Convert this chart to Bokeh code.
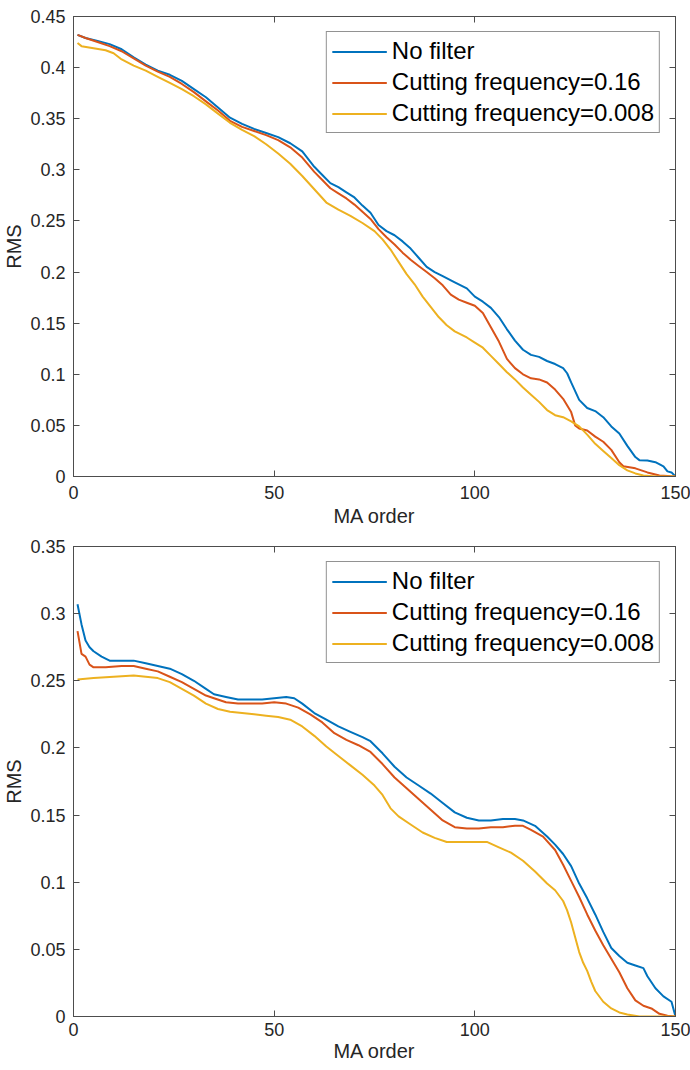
from bokeh.plotting import figure
from bokeh.layouts import column
from bokeh.models import (LinearAxis, FixedTicker, CustomJSTickFormatter, Range1d,
                          CustomLabelingPolicy)
from bokeh.embed import file_html
from bokeh.resources import INLINE

# ---------------- data ----------------
series_names = ["No filter", "Cutting frequency=0.16", "Cutting frequency=0.008"]
series_colors = ["#0072BD", "#D95319", "#EDB120"]

# upper panel
top_nf_x = [1, 3, 6, 9, 12, 15, 18, 21, 24, 27, 30, 33, 36, 39, 42, 45, 48, 51, 54, 57,
            60, 62, 64, 66, 68, 70, 72, 74, 76, 78, 80, 82, 84, 86, 88, 90, 92, 95, 98,
            100, 102, 104, 106, 108, 110, 112, 114, 116, 118, 120, 122, 123, 124, 126,
            128, 130, 132, 134, 136, 138, 140, 141, 143, 145, 147, 148, 149, 150]
top_nf_y = [0.432, 0.429, 0.426, 0.423, 0.418, 0.410, 0.403, 0.397, 0.393, 0.387, 0.379,
            0.371, 0.361, 0.351, 0.345, 0.340, 0.336, 0.332, 0.326, 0.318, 0.303, 0.295,
            0.287, 0.283, 0.278, 0.273, 0.265, 0.258, 0.246, 0.240, 0.236, 0.230, 0.223,
            0.214, 0.205, 0.200, 0.196, 0.190, 0.184, 0.176, 0.171, 0.165, 0.156, 0.144,
            0.133, 0.124, 0.119, 0.117, 0.113, 0.110, 0.106, 0.101, 0.092, 0.075, 0.067,
            0.064, 0.058, 0.049, 0.042, 0.030, 0.019, 0.016, 0.0156, 0.014, 0.010, 0.005,
            0.004, 0.0]

top_c16_x = [1, 3, 6, 9, 12, 15, 18, 21, 24, 27, 30, 33, 36, 39, 42, 45, 48, 51, 54, 57,
             60, 62, 64, 66, 68, 70, 72, 74, 76, 78, 80, 82, 84, 86, 88, 90, 92, 94, 96,
             98, 100, 102, 104, 106, 108, 110, 112, 114, 116, 118, 120, 122, 124, 125,
             126, 128, 130, 132, 134, 136, 137, 140, 143, 146, 150]
top_c16_y = [0.432, 0.429, 0.425, 0.421, 0.416, 0.409, 0.402, 0.396, 0.391, 0.384, 0.376,
             0.367, 0.358, 0.348, 0.342, 0.338, 0.334, 0.329, 0.322, 0.312, 0.298, 0.290,
             0.282, 0.277, 0.272, 0.266, 0.259, 0.252, 0.242, 0.234, 0.227, 0.219, 0.212,
             0.206, 0.200, 0.194, 0.187, 0.178, 0.173, 0.170, 0.167, 0.160, 0.146, 0.132,
             0.115, 0.106, 0.100, 0.096, 0.095, 0.092, 0.085, 0.076, 0.063, 0.050, 0.047,
             0.045, 0.039, 0.034, 0.026, 0.014, 0.010, 0.008, 0.004, 0.001, 0.0]

top_c008_x = [1, 2, 5, 8, 10, 12, 15, 18, 21, 24, 27, 30, 33, 36, 39, 42, 45, 48, 51, 54,
              57, 60, 63, 66, 69, 72, 75, 77, 79, 81, 83, 85, 87, 89, 91, 93, 95, 98, 100,
              102, 104, 106, 108, 110, 112, 114, 116, 118, 120, 122, 124, 126, 128, 130,
              132, 134, 136, 138, 140, 142, 145, 150]
top_c008_y = [0.424, 0.421, 0.419, 0.417, 0.414, 0.408, 0.402, 0.397, 0.391, 0.385, 0.379,
              0.372, 0.364, 0.355, 0.346, 0.339, 0.333, 0.325, 0.316, 0.306, 0.294, 0.281,
              0.268, 0.261, 0.255, 0.248, 0.240, 0.232, 0.222, 0.210, 0.198, 0.188, 0.176,
              0.166, 0.156, 0.148, 0.142, 0.136, 0.131, 0.126, 0.118, 0.110, 0.102, 0.095,
              0.087, 0.080, 0.073, 0.065, 0.060, 0.058, 0.054, 0.049, 0.041, 0.032, 0.025,
              0.018, 0.011, 0.006, 0.003, 0.001, 0.0, 0.0]

# lower panel
bot_nf_x = [1, 2, 3, 4, 5, 7, 9, 12, 15, 18, 21, 24, 27, 30, 33, 35, 38, 41, 44, 47, 50,
            53, 55, 57, 60, 63, 66, 69, 72, 74, 77, 80, 83, 86, 89, 92, 95, 98, 101, 104,
            107, 110, 112, 115, 118, 120, 122, 124, 126, 128, 130, 132, 134, 136, 138,
            140, 142, 143, 145, 147, 149, 150]
bot_nf_y = [0.307, 0.292, 0.280, 0.275, 0.272, 0.268, 0.265, 0.265, 0.265, 0.263, 0.261,
            0.259, 0.255, 0.250, 0.244, 0.240, 0.238, 0.236, 0.236, 0.236, 0.237, 0.238,
            0.237, 0.233, 0.226, 0.221, 0.216, 0.212, 0.208, 0.205, 0.196, 0.186, 0.178,
            0.172, 0.166, 0.159, 0.152, 0.148, 0.146, 0.146, 0.147, 0.147, 0.146, 0.142,
            0.134, 0.128, 0.121, 0.112, 0.099, 0.088, 0.076, 0.063, 0.051, 0.045, 0.040,
            0.038, 0.036, 0.030, 0.021, 0.015, 0.011, 0.0]

bot_c16_x = [1, 2, 3, 4, 5, 8, 12, 15, 18, 21, 24, 27, 30, 33, 35, 38, 41, 44, 47, 50, 53,
             56, 59, 62, 65, 68, 71, 74, 77, 80, 83, 86, 89, 92, 95, 98, 101, 104, 107,
             110, 112, 114, 117, 120, 122, 124, 126, 128, 130, 132, 134, 136, 138, 140,
             142, 144, 146, 148, 150]
bot_c16_y = [0.287, 0.270, 0.268, 0.262, 0.260, 0.260, 0.261, 0.261, 0.259, 0.257, 0.253,
             0.249, 0.244, 0.239, 0.237, 0.234, 0.233, 0.233, 0.233, 0.234, 0.233, 0.230,
             0.225, 0.219, 0.211, 0.206, 0.202, 0.197, 0.188, 0.178, 0.170, 0.162, 0.154,
             0.146, 0.141, 0.140, 0.140, 0.141, 0.141, 0.142, 0.142, 0.139, 0.134, 0.124,
             0.113, 0.101, 0.089, 0.076, 0.064, 0.053, 0.043, 0.033, 0.021, 0.012, 0.008,
             0.006, 0.002, 0.0005, 0.0]

bot_c008_x = [1, 5, 10, 15, 18, 21, 24, 27, 30, 33, 36, 39, 42, 45, 48, 51, 54, 57, 60,
              63, 66, 69, 72, 75, 77, 79, 81, 84, 87, 90, 93, 96, 100, 103, 106, 109, 112,
              115, 118, 120, 122, 123, 124, 125, 126, 127, 128, 129, 130, 132, 134, 136,
              138, 141, 150]
bot_c008_y = [0.251, 0.252, 0.253, 0.254, 0.253, 0.252, 0.249, 0.244, 0.239, 0.233, 0.229,
              0.227, 0.226, 0.225, 0.224, 0.223, 0.221, 0.216, 0.209, 0.201, 0.194, 0.187,
              0.180, 0.172, 0.165, 0.155, 0.149, 0.143, 0.137, 0.133, 0.130, 0.130, 0.130,
              0.130, 0.126, 0.122, 0.116, 0.108, 0.099, 0.094, 0.086, 0.079, 0.070, 0.059,
              0.048, 0.040, 0.034, 0.026, 0.019, 0.011, 0.006, 0.003, 0.0015, 0.0, 0.0]

x_ticks = [0, 50, 100, 150]
top_y_ticks = [0, 0.05, 0.1, 0.15, 0.2, 0.25, 0.3, 0.35, 0.4, 0.45]
bot_y_ticks = [0, 0.05, 0.1, 0.15, 0.2, 0.25, 0.3, 0.35]

# ---------------- styling ----------------
FONT = "Liberation Sans"
AX = "#4d4d4d"
TXT = "#262626"
fmt = CustomJSTickFormatter(code="return String(parseFloat(tick.toFixed(3)));")
no_labels = CustomLabelingPolicy(code="""
for (const i of indices) { indices.unset(i) }
return indices
""")


def style_axis(ax, show_labels):
    ax.axis_line_color = AX
    ax.major_tick_line_color = AX
    ax.major_tick_in = 6
    ax.major_tick_out = 0
    ax.minor_tick_line_color = None
    ax.major_label_text_font = FONT
    ax.major_label_text_color = TXT
    ax.major_label_text_font_size = "18px"
    if not show_labels:
        ax.major_label_policy = no_labels
        ax.major_label_standoff = 0


def make_plot(series, ymax, yticks, frame_h, top_b, bot_b, x_lab_off, x_title_off):
    p = figure(frame_width=602, frame_height=frame_h,
               x_range=Range1d(0, 150), y_range=Range1d(0, ymax),
               output_backend="svg", toolbar_location=None,
               min_border_left=65, min_border_right=7,
               min_border_top=top_b, min_border_bottom=bot_b)
    p.xgrid.visible = False
    p.ygrid.visible = False
    p.outline_line_color = AX
    p.background_fill_color = "white"
    p.border_fill_color = "white"

    for (xs, ys), name, col in zip(series, series_names, series_colors):
        p.line(xs, ys, line_color=col, line_width=2, legend_label=name)

    p.xaxis.ticker = FixedTicker(ticks=x_ticks)
    p.yaxis.ticker = FixedTicker(ticks=yticks)
    p.yaxis.formatter = fmt
    style_axis(p.xaxis[0], True)
    style_axis(p.yaxis[0], True)
    p.xaxis.major_label_standoff = x_lab_off
    p.yaxis.major_label_standoff = 8
    p.xaxis.axis_label = "MA order"
    p.yaxis.axis_label = "RMS"
    for ax in (p.xaxis[0], p.yaxis[0]):
        ax.axis_label_text_font = FONT
        ax.axis_label_text_font_size = "20px"
        ax.axis_label_text_font_style = "normal"
        ax.axis_label_text_color = TXT
    p.xaxis.axis_label_standoff = x_title_off
    p.yaxis.axis_label_standoff = 2

    ra = LinearAxis(ticker=FixedTicker(ticks=yticks))
    style_axis(ra, False)
    p.add_layout(ra, "right")
    ta = LinearAxis(ticker=FixedTicker(ticks=x_ticks))
    style_axis(ta, False)
    p.add_layout(ta, "above")

    lg = p.legend[0]
    lg.location = "top_right"
    lg.margin = 15
    lg.padding = 5
    lg.spacing = 3
    lg.glyph_width = 55
    lg.glyph_height = 27
    lg.label_height = 27
    lg.label_standoff = 5
    lg.label_text_font = FONT
    lg.label_text_font_size = "24px"
    lg.label_text_color = "black"
    lg.border_line_color = TXT
    lg.border_line_width = 1
    lg.background_fill_color = "white"
    lg.background_fill_alpha = 1.0
    return p


p1 = make_plot([(top_nf_x, top_nf_y), (top_c16_x, top_c16_y), (top_c008_x, top_c008_y)],
               0.45, top_y_ticks, 460, 10, 54, 9, 3)
p2 = make_plot([(bot_nf_x, bot_nf_y), (bot_c16_x, bot_c16_y), (bot_c008_x, bot_c008_y)],
               0.35, bot_y_ticks, 470, 16, 42, 6, 1)

layout = column(p1, p2, spacing=0)
open("out.html", "w").write(file_html(layout, INLINE))
